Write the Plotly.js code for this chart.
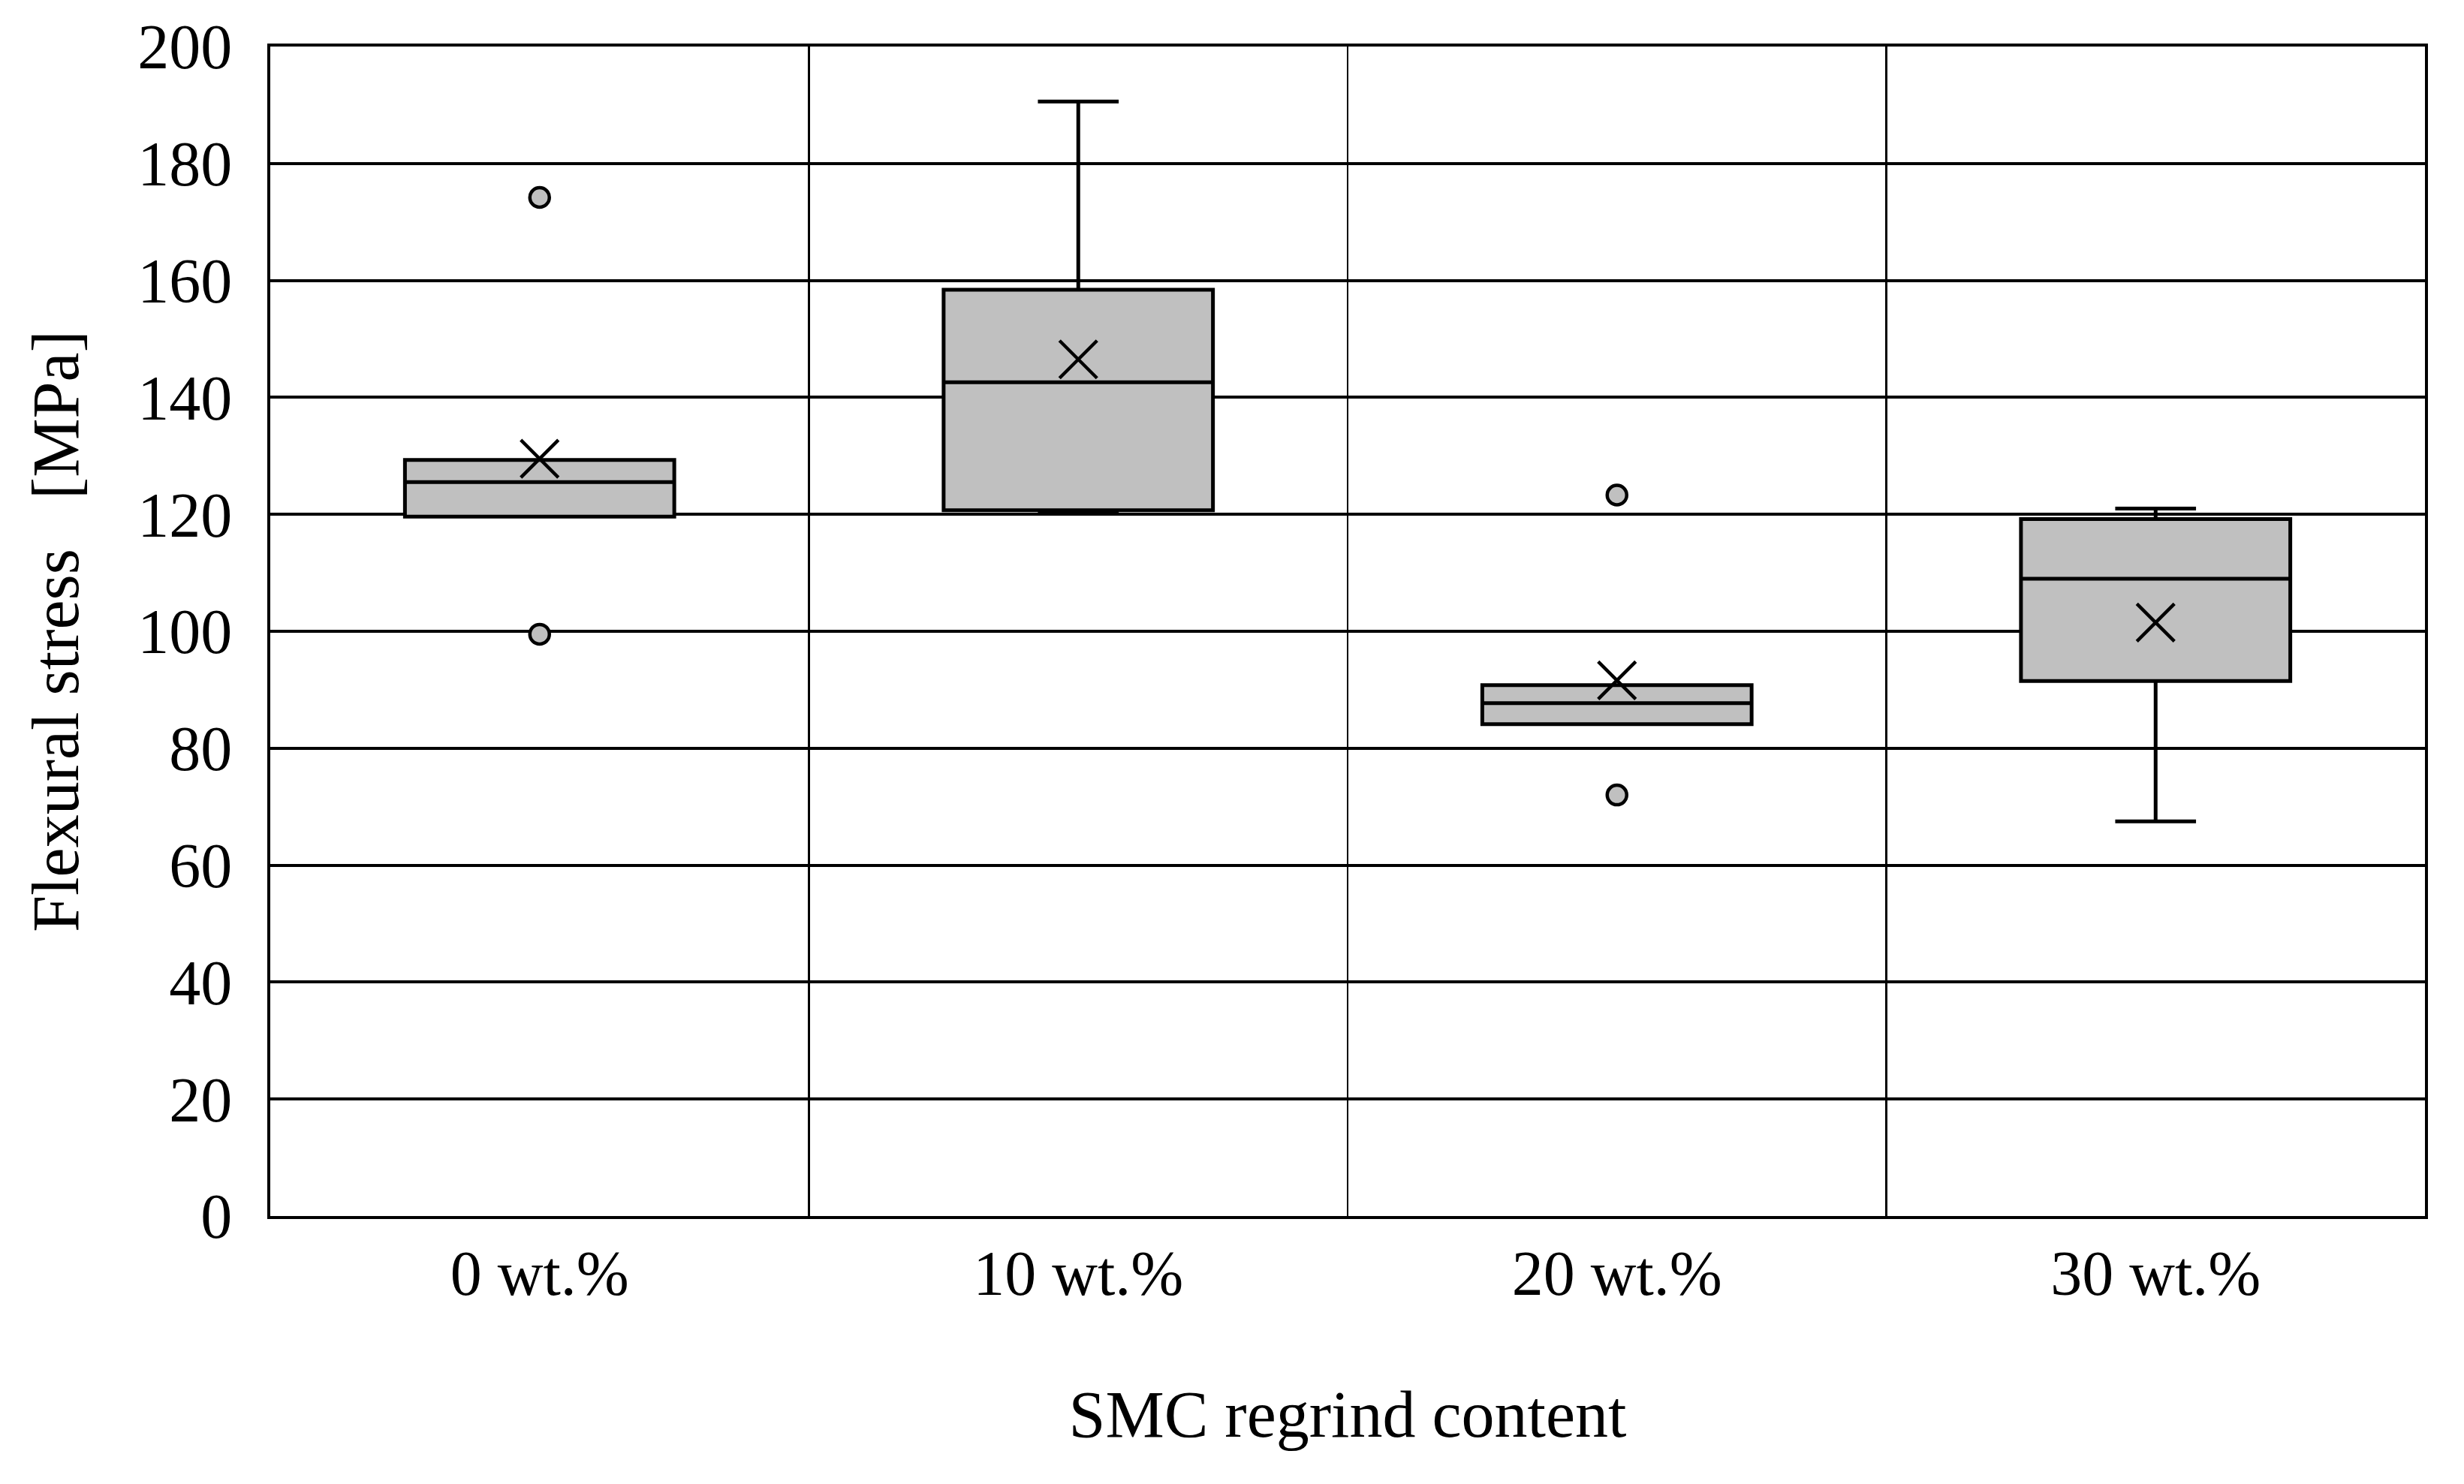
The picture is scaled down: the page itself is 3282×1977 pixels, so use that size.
<!DOCTYPE html>
<html>
<head>
<meta charset="utf-8">
<script src="https://cdn.plot.ly/plotly-3.0.1.min.js"></script>
<style>
  html, body { margin: 0; padding: 0; background: #ffffff; }
  #chart { width: 3282px; height: 1977px; }
</style>
</head>
<body>
<div id="chart"></div>
<script>
var categories = ["0 wt.%", "10 wt.%", "20 wt.%", "30 wt.%"];

var q1 = [119.6, 120.7, 84.1, 91.5];
var medians = [125.5, 142.6, 87.7, 109.0];
var q3 = [129.3, 158.4, 90.8, 119.2];
var lowfence = [119.6, 120.5, 84.1, 67.5];
var upfence = [129.3, 190.6, 90.8, 121.0];
var means = [129.5, 146.5, 91.6, 101.5];

var outlier_x = ["0 wt.%", "0 wt.%", "20 wt.%", "20 wt.%"];
var outlier_y = [174.2, 99.5, 123.3, 72.0];

var font_family = "Liberation Serif, DejaVu Serif, serif";

var box_trace = {
	type: "box",
	x: categories,
	q1: q1,
	median: medians,
	q3: q3,
	lowerfence: lowfence,
	upperfence: upfence,
	boxpoints: false,
	fillcolor: "#c0c0c0",
	whiskerwidth: 0.3,
	width: 0.5,
	line: {
		color: "#000000",
		width: 5
	},
	hoverinfo: "skip"
};

var mean_trace = {
	type: "scatter",
	mode: "markers",
	x: categories,
	y: means,
	marker: {
		symbol: "x-thin-open",
		size: 50,
		color: "#000000",
		line: { color: "#000000", width: 4.5 }
	}
};

var outlier_trace = {
	type: "scatter",
	mode: "markers",
	x: outlier_x,
	y: outlier_y,
	marker: {
		symbol: "circle",
		size: 26,
		color: "#c0c0c0",
		line: { color: "#000000", width: 4.5 }
	}
};

var layout = {
	width: 3282,
	height: 1977,
	paper_bgcolor: "#ffffff",
	plot_bgcolor: "#ffffff",
	showlegend: false,
	font: { family: font_family, color: "#000000", size: 84 },
	margin: { l: 360, r: 52, t: 62, b: 357, autoexpand: false },
	xaxis: {
		type: "category",
		categoryorder: "array",
		categoryarray: categories,
		range: [-0.5, 3.5],
		tickson: "boundaries",
		showgrid: true,
		gridcolor: "#000000",
		gridwidth: 2.5,
		showline: true,
		mirror: true,
		linecolor: "#000000",
		linewidth: 4,
		ticks: "",
		ticklabelstandoff: 0,
		tickfont: { family: font_family, size: 84 },
		title: {
			text: "SMC regrind content",
			font: { family: font_family, size: 88 },
			standoff: 112
		}
	},
	yaxis: {
		range: [0, 200],
		dtick: 20,
		showgrid: true,
		gridcolor: "#000000",
		gridwidth: 4,
		zeroline: false,
		showline: true,
		mirror: true,
		linecolor: "#000000",
		linewidth: 4,
		ticks: "",
		ticklabelstandoff: 30,
		tickfont: { family: font_family, size: 84 },
		title: {
			text: "Flexural stress\u00a0\u00a0\u00a0[MPa]",
			font: { family: font_family, size: 88 },
			standoff: 50
		}
	}
};

Plotly.newPlot("chart", [box_trace, outlier_trace, mean_trace], layout, {
	displayModeBar: false,
	staticPlot: true
});
</script>
</body>
</html>
